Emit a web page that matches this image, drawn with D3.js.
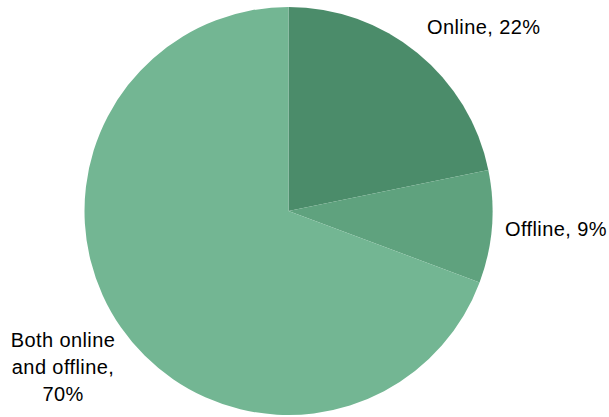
<!DOCTYPE html>
<html>
<head>
<meta charset="utf-8">
<script src="https://cdn.jsdelivr.net/npm/d3@7/dist/d3.min.js"></script>
<style>
  html, body { margin: 0; padding: 0; background: #ffffff; }
  svg { display: block; }
  text { font-family: "Liberation Sans", Arial, Helvetica, sans-serif; fill: #000; }
</style>
</head>
<body>
<svg id="chart" width="609" height="417"></svg>
<script>
// Share of respondents by channel
const categories = ["Online", "Offline", "Both online and offline"];
const shares = [22, 9, 70];
const labelLines = [["Online, 22%"], ["Offline, 9%"], ["Both online", "and offline,", "70%"]];
const colors = ["#4b8c6a", "#5fa27e", "#73b693"];

const cx = 288.5, cy = 211, radius = 204;

const svg = d3.select("#chart");
const g = svg.append("g").attr("transform", `translate(${cx},${cy})`);

const pie = d3.pie().sort(null).value(d => d);
const arcs = pie(shares);
const arc = d3.arc().innerRadius(0).outerRadius(radius);

g.selectAll("path.slice")
  .data(arcs)
  .join("path")
  .attr("class", "slice")
  .attr("d", arc)
  .attr("fill", (d, i) => colors[i]);

// Label positions beside each slice
const anchors = [
  { x: 427, y: 34, anchor: "start" },
  { x: 505, y: 236, anchor: "start" },
  { x: 63, y: 347, anchor: "middle" }
];
const lineHeight = 27;

svg.selectAll("text.label")
  .data(arcs)
  .join("text")
  .attr("class", "label")
  .attr("font-size", 20)
  .attr("letter-spacing", 0.4)
  .attr("text-anchor", (d, i) => anchors[i].anchor)
  .each(function(d, i) {
    const t = d3.select(this);
    labelLines[i].forEach((line, j) => {
      t.append("tspan")
        .attr("x", anchors[i].x)
        .attr("y", anchors[i].y + j * lineHeight)
        .text(line);
    });
  });
</script>
</body>
</html>
